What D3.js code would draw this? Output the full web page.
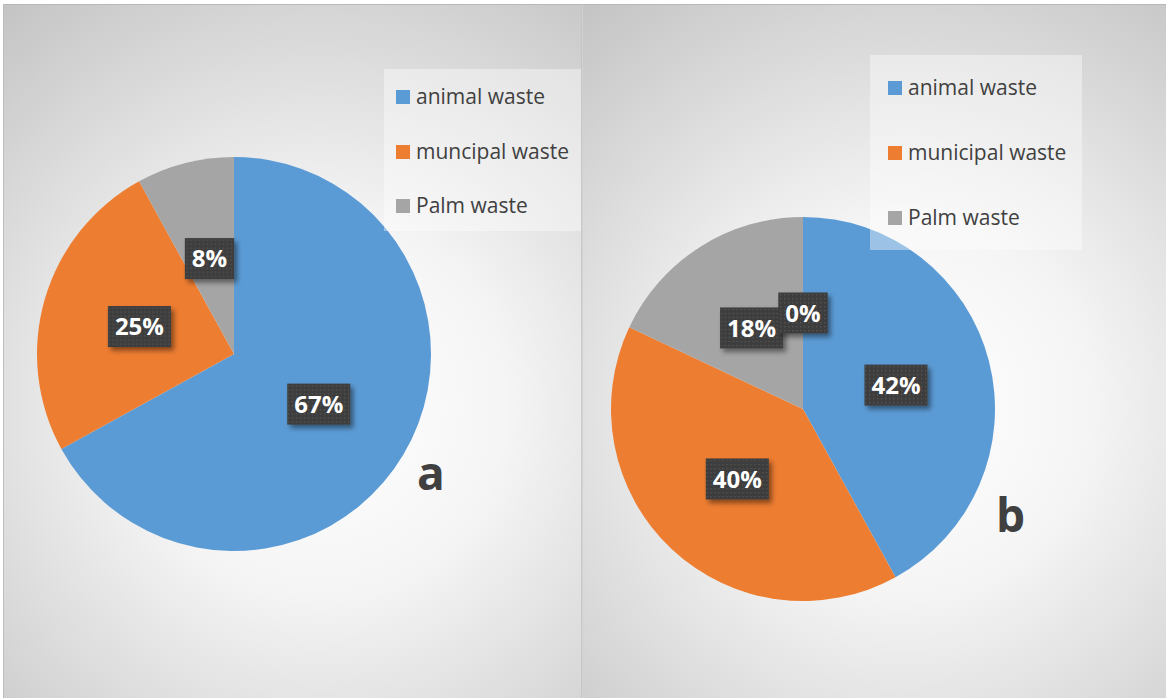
<!DOCTYPE html>
<html>
<head>
<meta charset="utf-8">
<script src="https://cdn.jsdelivr.net/npm/d3@7"></script>
<style>
  html, body { margin: 0; padding: 0; background: #ffffff; }
  svg { display: block; }
</style>
</head>
<body>
<svg id="chart" width="1166" height="698"></svg>
<script>
// Waste composition, two scenarios (a and b)
const categoriesA = ["animal waste", "muncipal waste", "Palm waste"];
const valuesA = [67, 25, 8];

const categoriesB = ["animal waste", "municipal waste", "Palm waste", ""];
const valuesB = [42, 40, 18, 0];

const panelTags = ["a", "b"];
const sliceColors = ["#5b9bd5", "#ed7d31", "#a5a5a5", "#ffc000"];

const svg = d3.select("#chart");
const defs = svg.append("defs");

// dotted dark fill for the data labels
const pat = defs.append("pattern")
  .attr("id", "dots").attr("width", 4).attr("height", 4)
  .attr("patternUnits", "userSpaceOnUse");
pat.append("rect").attr("width", 4).attr("height", 4).attr("fill", "#3e3e3e");
pat.append("rect").attr("x", 1).attr("y", 1).attr("width", 1.3).attr("height", 1.3).attr("fill", "#555555");

const shadow = defs.append("filter").attr("id", "shadow")
  .attr("x", "-30%").attr("y", "-30%").attr("width", "170%").attr("height", "170%");
shadow.append("feDropShadow").attr("dx", 3).attr("dy", 3.5)
  .attr("stdDeviation", 2.5).attr("flood-color", "#000").attr("flood-opacity", 0.45);

const panels = [
  { x: 3, y: 4, w: 579, h: 694, cx: 234, cy: 354, r: 197,
    cats: categoriesA, vals: valuesA, tag: panelTags[0],
    legend: { x: 384, y: 69, w: 197, h: 162, sx: 396, tx: 416, rows: [97, 152, 206] },
    tagPos: [417, 490] },
  { x: 583, y: 4, w: 583, h: 694, cx: 803, cy: 409, r: 192,
    cats: categoriesB, vals: valuesB, tag: panelTags[1],
    legend: { x: 870, y: 55, w: 212, h: 195, sx: 888, tx: 908, rows: [88, 153, 218] },
    tagPos: [996, 532] }
];

panels.forEach((p, i) => {
  // radial background of each chart area
  const grad = defs.append("radialGradient").attr("id", "bg" + i)
    .attr("gradientUnits", "userSpaceOnUse")
    .attr("cx", p.x + p.w * 0.55).attr("cy", p.y + p.h * 0.58)
    .attr("r", Math.hypot(p.w, p.h) * 0.58);
  grad.append("stop").attr("offset", 0).attr("stop-color", "#ffffff");
  grad.append("stop").attr("offset", 0.35).attr("stop-color", "#f5f5f5");
  grad.append("stop").attr("offset", 1).attr("stop-color", "#c2c2c2");

  svg.append("rect")
    .attr("x", p.x).attr("y", p.y).attr("width", p.w).attr("height", p.h)
    .attr("fill", `url(#bg${i})`);

  const g = svg.append("g").attr("transform", `translate(${p.cx},${p.cy})`);
  const pie = d3.pie().sort(null).value(d => d)
    .startAngle(0).endAngle(2 * Math.PI);
  const arcs = pie(p.vals);
  const arc = d3.arc().innerRadius(0).outerRadius(p.r);
  const labelArc = d3.arc().innerRadius(p.r * 0.5).outerRadius(p.r * 0.5);

  g.selectAll("path.slice").data(arcs).join("path")
    .attr("class", "slice")
    .attr("d", arc)
    .attr("fill", (d, j) => sliceColors[j]);

  // legend panel (translucent)
  const L = p.legend;
  svg.append("rect")
    .attr("x", L.x).attr("y", L.y).attr("width", L.w).attr("height", L.h)
    .attr("fill", "#ffffff").attr("fill-opacity", 0.4);
  const items = p.cats.map((c, j) => ({ c, j })).filter(d => d.c !== "");
  const lg = svg.append("g");
  lg.selectAll("rect.key").data(items).join("rect")
    .attr("class", "key")
    .attr("x", L.sx).attr("y", d => L.rows[d.j] - 7)
    .attr("width", 14).attr("height", 14)
    .attr("fill", d => sliceColors[d.j]);
  lg.selectAll("text").data(items).join("text")
    .attr("x", L.tx).attr("y", d => L.rows[d.j])
    .attr("dy", "0.35em")
    .attr("font-family", "'Open Sans', sans-serif")
    .attr("font-size", 21)
    .attr("fill", "#404040")
    .text(d => d.c);

  // data labels
  const lab = g.selectAll("g.lab").data(arcs).join("g")
    .attr("class", "lab")
    .attr("transform", d => `translate(${labelArc.centroid(d)})`);
  lab.each(function (d) {
    const sel = d3.select(this);
    const box = sel.append("rect").attr("fill", "url(#dots)").attr("filter", "url(#shadow)");
    const t = sel.append("text")
      .attr("text-anchor", "middle").attr("dy", "0.36em")
      .attr("font-family", "'Open Sans', sans-serif")
      .attr("font-weight", "bold").attr("font-size", 24)
      .attr("fill", "#ffffff")
      .text(d.data + "%");
    const w = t.node().getComputedTextLength() + 14;
    box.attr("x", -w / 2).attr("y", -20.5).attr("width", w).attr("height", 41);
  });

  svg.append("text")
    .attr("x", p.tagPos[0]).attr("y", p.tagPos[1])
    .attr("font-family", "'Open Sans', sans-serif")
    .attr("font-weight", "bold").attr("font-size", 46)
    .attr("fill", "#404040")
    .text(p.tag);
});

// frame lines
svg.append("line").attr("x1", 3).attr("x2", 1166).attr("y1", 4.5).attr("y2", 4.5)
  .attr("stroke", "#b8b8b8").attr("stroke-width", 1);
svg.append("line").attr("x1", 3.5).attr("x2", 3.5).attr("y1", 4).attr("y2", 698)
  .attr("stroke", "#bdbdbd").attr("stroke-width", 1);
svg.append("line").attr("x1", 582).attr("x2", 582).attr("y1", 4).attr("y2", 698)
  .attr("stroke", "#c2c2c2").attr("stroke-width", 1.5);
</script>
</body>
</html>
